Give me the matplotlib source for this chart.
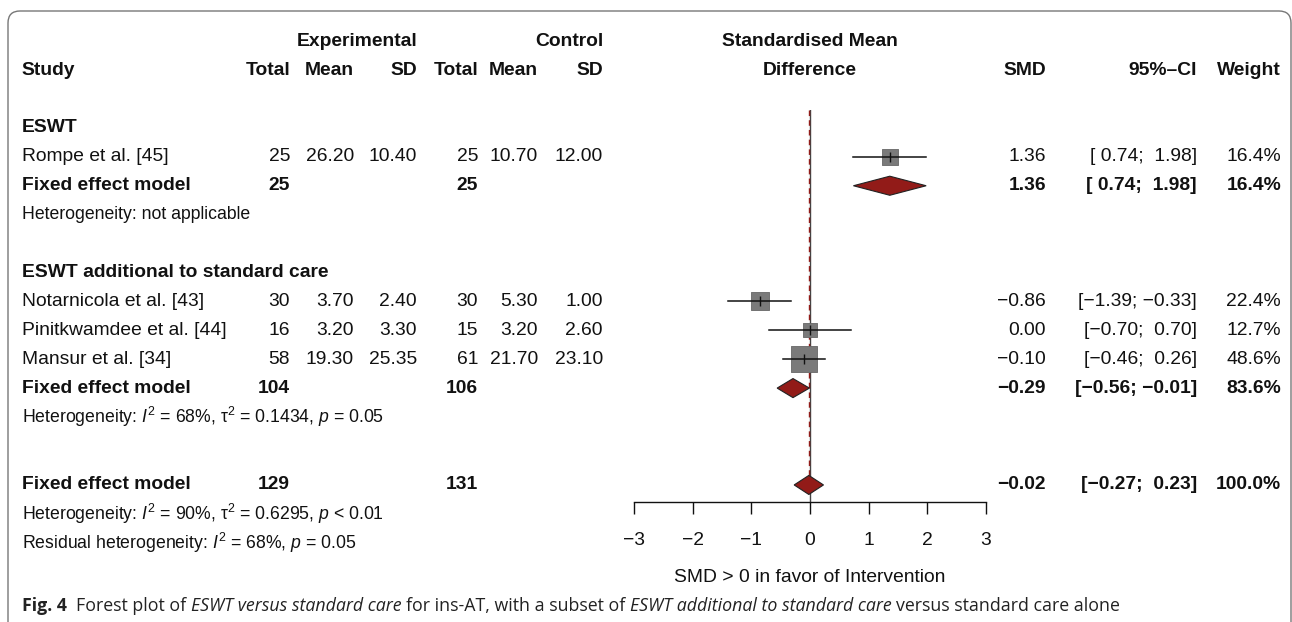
import matplotlib
matplotlib.use("Agg")
import matplotlib.pyplot as plt
import matplotlib.transforms as mtransforms
from matplotlib.patches import Polygon, FancyBboxPatch
import numpy as np

plt.rcParams['font.family'] = ['Liberation Sans', 'DejaVu Sans']
plt.rcParams['mathtext.fontset'] = 'custom'
plt.rcParams['mathtext.rm'] = 'Liberation Sans'
plt.rcParams['mathtext.it'] = 'Liberation Sans:italic'
plt.rcParams['mathtext.bf'] = 'Liberation Sans:bold'

# ---- data ----
studies = ['Rompe et al. [45]', 'Notarnicola et al. [43]',
           'Pinitkwamdee et al. [44]', 'Mansur et al. [34]']
group = [0, 1, 1, 1]
n_e = [25, 30, 16, 58]
mean_e = [26.20, 3.70, 3.20, 19.30]
sd_e = [10.40, 2.40, 3.30, 25.35]
n_c = [25, 30, 15, 61]
mean_c = [10.70, 5.30, 3.20, 21.70]
sd_c = [12.00, 1.00, 2.60, 23.10]
smd = [1.36, -0.86, 0.00, -0.10]
ci_lo = [0.74, -1.39, -0.70, -0.46]
ci_hi = [1.98, -0.33, 0.70, 0.26]
weight = [16.4, 22.4, 12.7, 48.6]

sub_names = ['ESWT', 'ESWT additional to standard care']
sub_n_e = [25, 104]
sub_n_c = [25, 106]
sub_smd = [1.36, -0.29]
sub_lo = [0.74, -0.56]
sub_hi = [1.98, -0.01]
sub_w = [16.4, 83.6]
sub_het = ['Heterogeneity: not applicable',
           'Heterogeneity: $I^2$ = 68%, \u03c4$^2$ = 0.1434, $p$ = 0.05']

tot_n_e, tot_n_c = 129, 131
tot_smd, tot_lo, tot_hi, tot_w = -0.02, -0.27, 0.23, 100.0
tot_het = ['Heterogeneity: $I^2$ = 90%, \u03c4$^2$ = 0.6295, $p$ < 0.01',
           'Residual heterogeneity: $I^2$ = 68%, $p$ = 0.05']

xticks = [-3, -2, -1, 0, 1, 2, 3]
xlabel = 'SMD > 0 in favor of Intervention'

# ---- layout ----
W, H = 1292, 622
FS = 13.9
FS_HET = 12.7
MINUS = '\u2212'
DIAMOND = '#921b18'
BOX = '#7a7a7a'
ROW_TOP, ROW_BOT = -0.62, 12.94   # rows at the top / bottom of the forest axes
PX_TOP, PX_BOT = 110, 502

def num(v):
    s = f'{abs(v):.2f}'
    return (MINUS + s) if v < 0 else s

def ci(lo, hi):
    f = lambda v: (MINUS if v < 0 else ' ') + f'{abs(v):.2f}'
    return '[' + f(lo) + '; ' + f(hi) + ']'

fig = plt.figure(figsize=(W / 100, H / 100), dpi=100)

ax = fig.add_axes([634 / W, (H - PX_BOT) / H, (986 - 634) / W, (PX_BOT - PX_TOP) / H])
ax.set_xlim(-3, 3)
ax.set_ylim(ROW_BOT, ROW_TOP)
tr = mtransforms.blended_transform_factory(fig.transFigure, ax.transData)

# column anchors (pixels)
X_STUDY = 22
X_ET, X_EM, X_ES = 290, 354, 417
X_CT, X_CM, X_CS = 478, 538, 603
X_SMD, X_CI, X_W = 1046, 1197, 1281
X_MID = 810

def put(x, y, s, ha='right', bold=False, size=FS):
    ax.text(x / W, y, s, transform=tr, ha=ha, va='center', fontsize=size,
            fontweight='bold' if bold else 'normal', color='#111111')

# headers
put(X_ES, -3, 'Experimental', bold=True)
put(X_CS, -3, 'Control', bold=True)
put(X_MID, -3, 'Standardised Mean', ha='center', bold=True)
put(X_STUDY, -2, 'Study', ha='left', bold=True)
for x, s in zip([X_ET, X_EM, X_ES, X_CT, X_CM, X_CS],
                ['Total', 'Mean', 'SD', 'Total', 'Mean', 'SD']):
    put(x, -2, s, bold=True)
put(X_MID, -2, 'Difference', ha='center', bold=True)
put(X_SMD, -2, 'SMD', bold=True)
put(X_CI, -2, '95%\u2013CI', bold=True)
put(X_W, -2, 'Weight', bold=True)

# reference line at 0
ax.axvline(0, color='#444444', lw=1.0, zorder=1)
k = 3.8 * 0.72  # square side (pt) per sqrt(weight)
DH = 0.33       # diamond half height in rows

row = 0
for g in range(len(sub_names)):
    put(X_STUDY, row, sub_names[g], ha='left', bold=True)
    row += 1
    for i in range(len(studies)):
        if group[i] != g:
            continue
        put(X_STUDY, row, studies[i], ha='left')
        put(X_ET, row, f'{n_e[i]}')
        put(X_EM, row, f'{mean_e[i]:.2f}')
        put(X_ES, row, f'{sd_e[i]:.2f}')
        put(X_CT, row, f'{n_c[i]}')
        put(X_CM, row, f'{mean_c[i]:.2f}')
        put(X_CS, row, f'{sd_c[i]:.2f}')
        put(X_SMD, row, num(smd[i]))
        put(X_CI, row, ci(ci_lo[i], ci_hi[i]))
        put(X_W, row, f'{weight[i]:.1f}%')
        ax.scatter([smd[i]], [row], marker='s', s=(k * np.sqrt(weight[i])) ** 2,
                   color=BOX, edgecolor='#666666', lw=0.6, zorder=3, clip_on=False)
        ax.plot([ci_lo[i], ci_hi[i]], [row, row], color='#111111', lw=1.1,
                zorder=4, clip_on=False)
        ax.plot([smd[i]], [row], marker='|', ms=7, mew=1.0, color='#111111',
                zorder=5, clip_on=False)
        row += 1
    put(X_STUDY, row, 'Fixed effect model', ha='left', bold=True)
    put(X_ET, row, f'{sub_n_e[g]}', bold=True)
    put(X_CT, row, f'{sub_n_c[g]}', bold=True)
    put(X_SMD, row, num(sub_smd[g]), bold=True)
    put(X_CI, row, ci(sub_lo[g], sub_hi[g]), bold=True)
    put(X_W, row, f'{sub_w[g]:.1f}%', bold=True)
    ax.add_patch(Polygon([(sub_lo[g], row), (sub_smd[g], row - DH),
                          (sub_hi[g], row), (sub_smd[g], row + DH)],
                         closed=True, facecolor=DIAMOND, edgecolor='#222222',
                         lw=0.8, zorder=4, clip_on=False))
    row += 1
    put(X_STUDY, row, sub_het[g], ha='left', size=FS_HET)
    row += 2

# overall
r_tot = row + 0.35
put(X_STUDY, r_tot, 'Fixed effect model', ha='left', bold=True)
put(X_ET, r_tot, f'{tot_n_e}', bold=True)
put(X_CT, r_tot, f'{tot_n_c}', bold=True)
put(X_SMD, r_tot, num(tot_smd), bold=True)
put(X_CI, r_tot, ci(tot_lo, tot_hi), bold=True)
put(X_W, r_tot, f'{tot_w:.1f}%', bold=True)
ax.plot([tot_smd, tot_smd], [ROW_TOP, r_tot], color=DIAMOND, lw=1.0,
        ls=(0, (4, 3)), zorder=2)
ax.add_patch(Polygon([(tot_lo, r_tot), (tot_smd, r_tot - DH),
                      (tot_hi, r_tot), (tot_smd, r_tot + DH)],
                     closed=True, facecolor=DIAMOND, edgecolor='#222222',
                     lw=0.8, zorder=4, clip_on=False))
put(X_STUDY, r_tot + 1, tot_het[0], ha='left', size=FS_HET)
put(X_STUDY, r_tot + 2, tot_het[1], ha='left', size=FS_HET)

# axis
for s in ['left', 'right', 'top']:
    ax.spines[s].set_visible(False)
ax.spines['bottom'].set_color('#111111')
ax.spines['bottom'].set_linewidth(1.0)
ax.set_yticks([])
ax.set_xticks(xticks)
ax.tick_params(axis='x', direction='out', length=8.6, width=1.0, pad=13,
               labelsize=FS, colors='#111111')
ax.patch.set_visible(False)
fig.text(X_MID / W, 1 - 577 / H, xlabel, ha='center', va='center', fontsize=FS,
         color='#111111')

# frame and caption
fig.patches.append(FancyBboxPatch((0.08, -0.3), 12.83, 6.41, transform=fig.dpi_scale_trans,
                                  boxstyle='round,pad=0,rounding_size=0.12',
                                  facecolor='none', edgecolor='#777777', lw=1.0))

cap = [('Fig. 4', 'normal', 'bold'), ('Forest plot of', 'normal', 'normal'),
       ('ESWT versus standard care', 'italic', 'normal'),
       ('for ins-AT, with a subset of', 'normal', 'normal'),
       ('ESWT additional to standard care', 'italic', 'normal'),
       ('versus standard care alone', 'normal', 'normal')]
gaps = [0, 6.5, 3.3, 3.3, 3.3, 3.3]
kw = dict(fontsize=12.8, family=['Open Sans', 'DejaVu Sans'], color='#222222',
          ha='left', va='bottom')
prev = fig.text(X_STUDY / W, 1 - 615 / H, cap[0][0], fontstyle=cap[0][1],
                fontweight=cap[0][2], **kw)
for (s, st, wt), gp in zip(cap[1:], gaps[1:]):
    prev = ax.annotate(s, xy=(1, 0), xycoords=prev, xytext=(gp, 0),
                       textcoords='offset points', annotation_clip=False,
                       fontstyle=st, fontweight=wt, **kw)

fig.savefig('out.png', dpi=100)
